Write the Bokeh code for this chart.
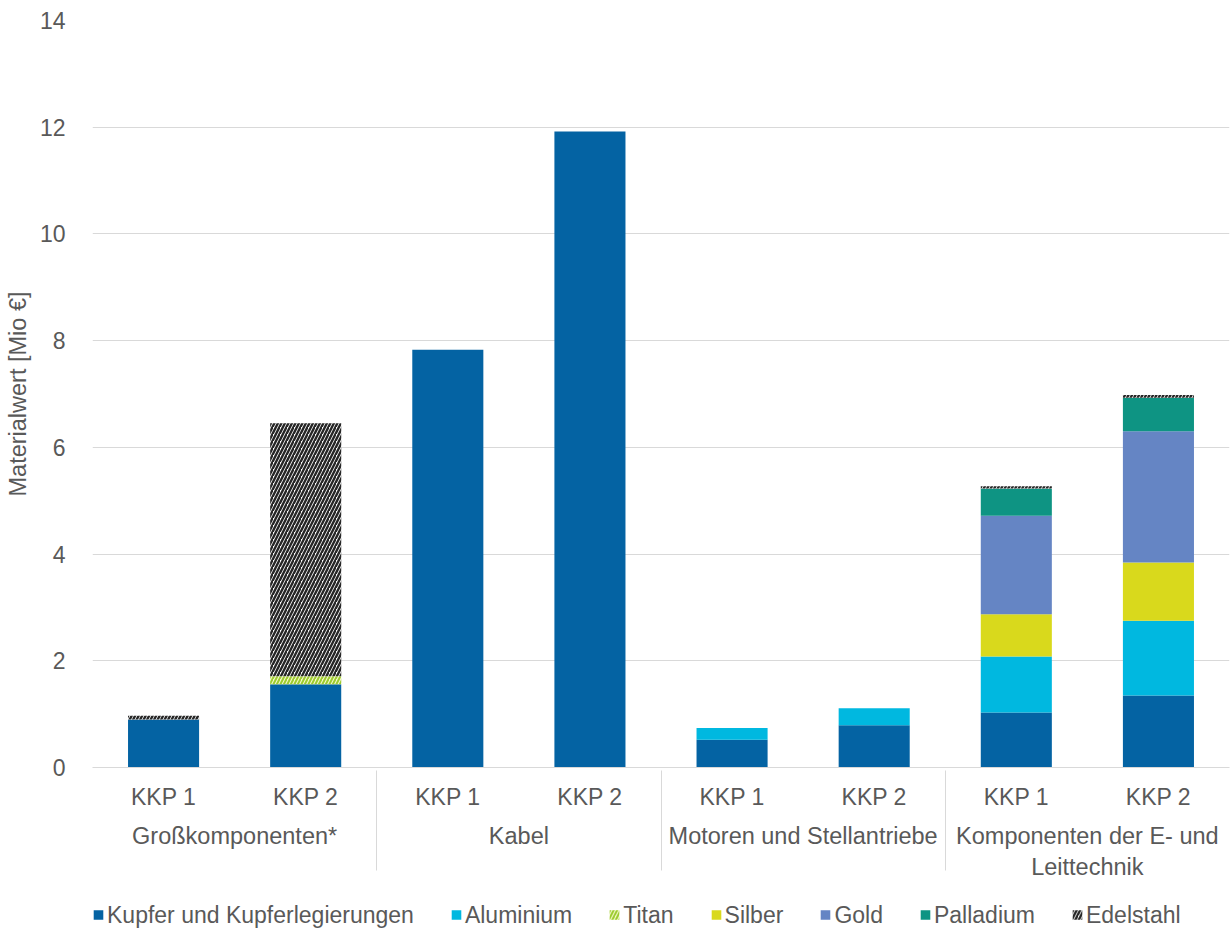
from bokeh.plotting import figure
from bokeh.layouts import column
from bokeh.models import (ColumnDataSource, FactorRange, FixedTicker, Legend,
                          LegendItem)
from bokeh.transform import stack
from bokeh.embed import file_html
from bokeh.resources import INLINE

# Kategorien und Szenarien
groups = ["Großkomponenten*", "Kabel", "Motoren und Stellantriebe",
          "Komponenten der E- und\nLeittechnik"]
scenarios = ["KKP 1", "KKP 2"]

# Materialwert je Werkstoff [Mio €], Reihenfolge: Gruppe x Szenario
kupfer = [0.90, 1.56, 7.83, 11.92, 0.52, 0.79, 1.03, 1.35]
aluminium = [0.0, 0.0, 0.0, 0.0, 0.22, 0.32, 1.05, 1.40]
titan = [0.0, 0.15, 0.0, 0.0, 0.0, 0.0, 0.0, 0.0]
silber = [0.0, 0.0, 0.0, 0.0, 0.0, 0.0, 0.79, 1.09]
gold = [0.0, 0.0, 0.0, 0.0, 0.0, 0.0, 1.85, 2.46]
palladium = [0.0, 0.0, 0.0, 0.0, 0.0, 0.0, 0.51, 0.63]
edelstahl = [0.07, 4.74, 0.0, 0.0, 0.0, 0.0, 0.04, 0.05]

series_names = ["Kupfer und Kupferlegierungen", "Aluminium", "Titan",
                "Silber", "Gold", "Palladium", "Edelstahl"]
y_ticks = [0, 2, 4, 6, 8, 10, 12, 14]

x = [(g, s) for g in groups for s in scenarios]
keys = ["kupfer", "aluminium", "titan", "silber", "gold", "palladium",
        "edelstahl"]
source = ColumnDataSource(dict(x=x, kupfer=kupfer, aluminium=aluminium,
                               titan=titan, silber=silber, gold=gold,
                               palladium=palladium, edelstahl=edelstahl))

styles = {
    "kupfer": dict(fill_color="#0463A3"),
    "aluminium": dict(fill_color="#00B8E0"),
    "titan": dict(fill_color="#F4F8C8", hatch_pattern="/",
                  hatch_color="#9CCB2E", hatch_weight=2, hatch_scale=7),
    "silber": dict(fill_color="#D9D91C"),
    "gold": dict(fill_color="#6585C4"),
    "palladium": dict(fill_color="#0E9483"),
    "edelstahl": dict(fill_color="white", hatch_pattern="/",
                      hatch_color="#262626", hatch_weight=2.4, hatch_scale=7),
}

TEXT = "#595959"
GRID = "#D9D9D9"
FONT = "Liberation Sans"

x_range = FactorRange(*x, group_padding=0, factor_padding=0,
                      subgroup_padding=0, range_padding=0)

p = figure(x_range=x_range, y_range=(0, 14), frame_width=1137,
           frame_height=747, output_backend="svg", toolbar_location=None,
           min_border_left=92, min_border_right=2, min_border_top=20,
           min_border_bottom=128)
p.outline_line_color = None
p.background_fill_color = "white"
p.border_fill_color = "white"

for i, k in enumerate(keys):
    p.vbar(x="x", width=0.5, bottom=stack(*keys[:i]),
           top=stack(*keys[:i + 1]), source=source, line_color=None,
           **styles[k])

# y-Achse
p.yaxis.ticker = FixedTicker(ticks=y_ticks)
p.yaxis.axis_line_color = None
p.yaxis.major_tick_line_color = None
p.yaxis.minor_tick_line_color = None
p.yaxis.major_label_text_font = FONT
p.yaxis.major_label_text_font_size = "23px"
p.yaxis.major_label_text_color = TEXT
p.yaxis.major_label_standoff = 21
p.yaxis.axis_label = "Materialwert [Mio €]"
p.yaxis.axis_label_text_font = FONT
p.yaxis.axis_label_text_font_size = "23.5px"
p.yaxis.axis_label_text_font_style = "normal"
p.yaxis.axis_label_text_color = TEXT
p.yaxis.axis_label_standoff = 6

p.ygrid.grid_line_color = GRID
p.ygrid.grid_line_width = 1
p.xgrid.grid_line_color = None

# x-Achse mit Gruppen
ax = p.xaxis[0]
ax.axis_line_color = GRID
ax.major_tick_line_color = None
ax.minor_tick_line_color = None
ax.major_label_text_font = FONT
ax.major_label_text_font_size = "23px"
ax.major_label_text_color = TEXT
ax.major_label_standoff = 10
ax.group_text_font = FONT
ax.group_text_font_size = "23.5px"
ax.group_text_font_style = "normal"
ax.group_text_color = TEXT
ax.group_label_orientation = "horizontal"
ax.separator_line_color = GRID
ax.separator_line_width = 1

# Legende in eigenem Streifen unter dem Diagramm
leg_fig = figure(width=1231, height=39, x_range=(0, 1), y_range=(0, 1),
                 x_axis_type=None, y_axis_type=None, output_backend="svg",
                 toolbar_location=None, min_border=0)
leg_fig.outline_line_color = None
leg_fig.grid.visible = False
leg_fig.background_fill_color = "white"
leg_fig.border_fill_color = "white"

# Stellvertreter-Glyphen ohne Fläche, nur für die Legendensymbole
items = []
for i, k in enumerate(keys):
    r = leg_fig.vbar(x=[0.5], bottom=[0], top=[0], width=0.0,
                     line_color=None, **styles[k])
    items.append(LegendItem(label=series_names[i], renderers=[r]))

legend = Legend(items=items, orientation="horizontal", location="left",
                label_text_font=FONT, label_text_font_size="23px",
                label_text_color=TEXT, glyph_width=12, glyph_height=12,
                label_standoff=3, spacing=36, border_line_color=None,
                background_fill_alpha=0, padding=0, margin=0)
leg_fig.add_layout(legend, "center")

layout = column(p, leg_fig, spacing=0)
open("out.html", "w").write(file_html(layout, INLINE))
